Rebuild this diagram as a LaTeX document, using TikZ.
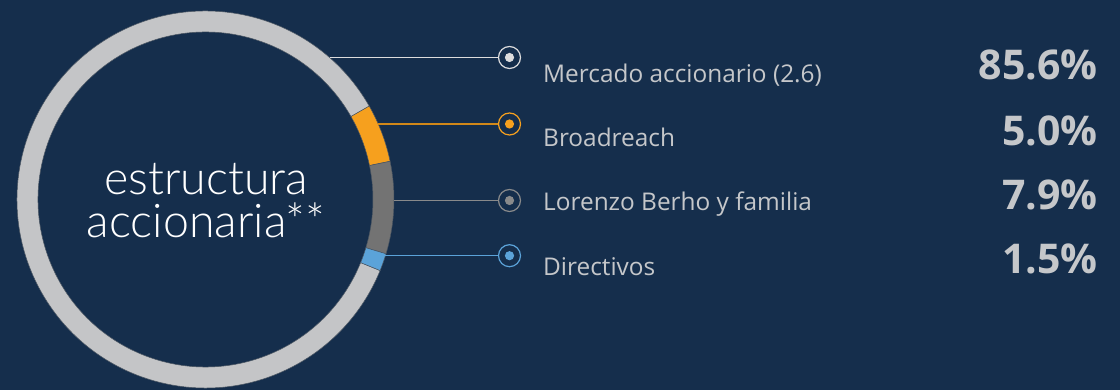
\documentclass[tikz,border=0pt]{standalone}
\usepackage{fontspec}
\setmainfont{Open Sans}
\newfontfamily\lightfont{Lato Light}
\definecolor{bg}{HTML}{152E4C}
\definecolor{ringgray}{HTML}{C4C5C7}
\definecolor{ringorange}{HTML}{F6A01E}
\definecolor{ringdark}{HTML}{737373}
\definecolor{ringblue}{HTML}{5BA3D9}
\definecolor{txt}{HTML}{C5C7CA}
\definecolor{sep}{HTML}{4A5561}
\tikzset{
  dotmark/.style={circle, draw=#1, line width=1.2pt, minimum size=22pt, inner sep=0pt,
    path picture={\fill[#1] (path picture bounding box.center) circle (4.6);}},
  conn/.style={line width=1.1pt, draw=#1},
  lbl/.style={anchor=base west, text=txt, inner sep=0pt, font=\fontsize{24.4}{28}\selectfont},
  pct/.style={anchor=base east, text=txt, inner sep=0pt, font=\fontsize{41}{44}\selectfont\bfseries},
  title/.style={anchor=base, text=white, inner sep=0pt, font=\lightfont\fontsize{46.5}{46}\selectfont},
}
\newcommand{\seg}[3]{%
  \filldraw[fill=#1, draw=sep, line width=0.5pt] (#2:188.5) arc[start angle=#2, end angle=#3, radius=188.5]
    -- (#3:167.5) arc[start angle=#3, end angle=#2, radius=167.5] -- cycle;}
\begin{document}
\begin{tikzpicture}[x=1pt,y=1pt]
\fill[bg] (0,0) rectangle (1120,390);
\useasboundingbox (0,0) rectangle (1120,390);
\coordinate (c) at (205.5,190.5);
\begin{scope}[shift={(c)}]
  \seg{ringgray}{29.7}{337.86}
  \seg{ringorange}{11.7}{29.7}
  \seg{ringdark}{-16.74}{11.7}
  \seg{ringblue}{-22.14}{-16.74}
\end{scope}
\node[title] (t1) at (206,195) {estructura};
\node[title] (t2) at (206,152) {accionaria**};
% attach points on ring
\coordinate (p1) at (329.5,332.5);
\coordinate (p2) at (378.2,266);
\coordinate (p3) at (394,189.5);
\coordinate (p4) at (385.4,134.3);
% markers
\node[dotmark=ringgray!60!white] (m1) at (509.5,332.5) {};
\node[dotmark=ringorange] (m2) at (509.5,266) {};
\node[dotmark=ringgray!70!black] (m3) at (509.5,189.5) {};
\node[dotmark=ringblue] (m4) at (509.5,134.3) {};
\draw[conn=ringgray!60!white] (p1) -- (m1);
\draw[conn=ringorange!85!black] (p2) -- (m2);
\draw[conn=ringgray!70!black] (p3) -- (m3);
\draw[conn=ringblue] (p4) -- (m4);
% labels
\node[lbl] (l1) at (543,307.7) {Mercado accionario (2.6)};
\node[lbl] (l2) at (543,243) {Broadreach};
\node[lbl] (l3) at (543,179) {Lorenzo Berho y familia};
\node[lbl] (l4) at (543,114) {Directivos};
\node[pct] (v1) at (1098,310) {85.6\%};
\node[pct] (v2) at (1098,244) {5.0\%};
\node[pct] (v3) at (1098,180) {7.9\%};
\node[pct] (v4) at (1098,116) {1.5\%};
\end{tikzpicture}
\end{document}
